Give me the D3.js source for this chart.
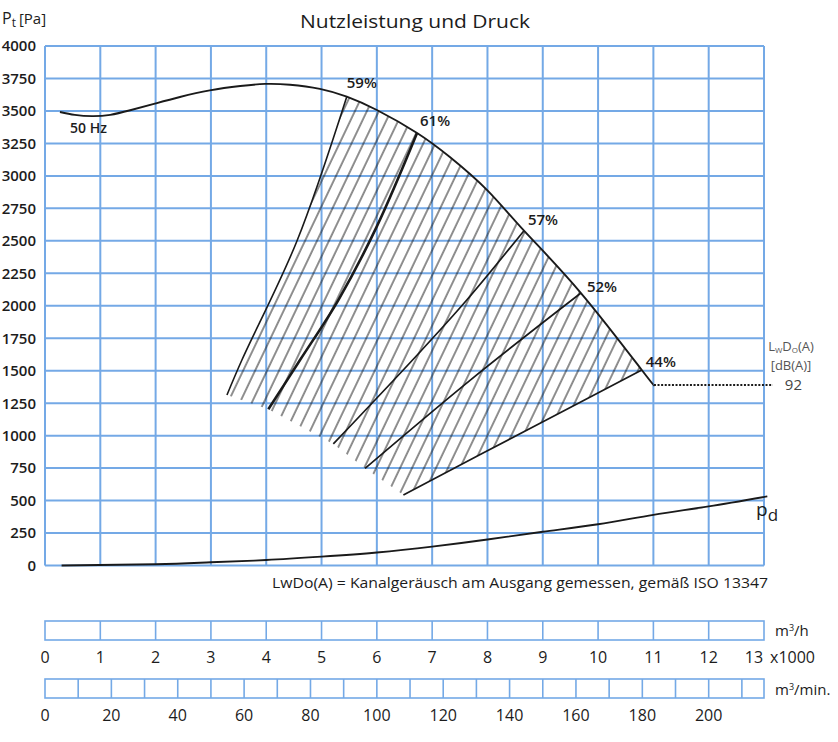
<!DOCTYPE html>
<html><head><meta charset="utf-8">
<script src="https://cdn.jsdelivr.net/npm/d3@7"></script>
<style>body{margin:0;background:#fff}</style>
</head><body>
<svg id="c" width="838" height="742" xmlns="http://www.w3.org/2000/svg"></svg>
<script>
// ---------- data ----------
const flowTicks = d3.range(0, 14);                 // x1000 m³/h
const pressureTicks = d3.range(0, 4001, 250);      // Pa
const minuteLines = d3.range(0, 211, 10);          // m³/min box dividers
const minuteLabels = d3.range(0, 201, 20);         // m³/min labels
const flowMaxMinute = 13000 / 60;

// 50 Hz fan curve [Q (x1000 m³/h), pt (Pa)]
const curve50Hz = [[0.27,3492],[0.54,3470],[0.85,3460],[1.18,3470],[1.54,3505],[1.97,3554],[2.44,3607],[2.98,3658],[3.53,3692],[3.98,3708],[4.43,3702],[4.97,3670],[5.456,3610],[6.0,3507],[6.727,3330],[7.32,3145],[7.99,2892],[8.66,2578],[9.69,2098],[10.79,1505],[11.01,1390]];
// dynamic pressure pd
const curvePd = [[0.3,0],[2,10],[3,25],[4,42],[5,68],[6,100],[7,145],[8,200],[9,260],[10,318],[11,390],[12,455],[13.06,532]];
// efficiency lines
const eff59 = [[5.456,3610],[4.55,2493],[3.56,1582],[3.29,1313]];
const eff61 = [[6.727,3330],[5.998,2609],[5.304,2044],[4.611,1582],[4.038,1203]];
const eff57 = [[8.66,2578],[7.626,2044],[6.78,1644],[5.213,936]];
const eff52 = [[9.69,2098],[7.69,1428],[5.787,748]];
const eff44 = [[10.79,1505],[8.83,1069],[6.48,543]];
const effNames = ["59%","61%","57%","52%","44%"];
const noiseValue = 92;           // LwDo(A) dB(A)
const noiseLineEndQ = 13.16;

// ---------- layout ----------
const svg = d3.select("#c");
const x = d3.scaleLinear().domain([0,13]).range([45,764]);
const y = d3.scaleLinear().domain([0,4000]).range([565.5,46]);
const xm = d3.scaleLinear().domain([0,flowMaxMinute]).range([45,764]);
const gridColor = "#74a9e6";
const textColor = "#1c1c1c";
const font = "'Open Sans', 'Noto Sans', sans-serif";
const condFont = "'Liberation Sans Narrow', 'Open Sans', sans-serif";

// grid
const g = svg.append("g");
g.selectAll("line.v").data(flowTicks).enter().append("line")
  .attr("x1", d=>x(d)).attr("x2", d=>x(d)).attr("y1", y(0)).attr("y2", y(4000))
  .attr("stroke", gridColor).attr("stroke-width", 2);
g.selectAll("line.h").data(pressureTicks).enter().append("line")
  .attr("x1", x(0)).attr("x2", x(13)).attr("y1", d=>y(d)).attr("y2", d=>y(d))
  .attr("stroke", gridColor).attr("stroke-width", 2);

// y labels
svg.append("g").selectAll("text").data(pressureTicks).enter().append("text")
  .attr("x", 36).attr("y", d=>y(d)).attr("dy","0.36em").attr("text-anchor","end")
  .attr("font-family", font).attr("font-size", 15).attr("font-weight", 600)
  .attr("fill", textColor).text(d=>d);

// axis title
const pt = svg.append("text").attr("x", 2).attr("y", 24).attr("font-family", font)
  .attr("fill", textColor).attr("font-size", 16);
pt.append("tspan").text("P");
pt.append("tspan").attr("font-size", 12).attr("dy", 3).text("t");
pt.append("tspan").attr("font-size", 15).attr("dy", -3).attr("dx", 3).text("[Pa]");

// title
svg.append("text").attr("x", 300).attr("y", 22).attr("dy","0.36em")
  .attr("font-family", font).attr("font-size", 18).attr("fill", textColor)
  .attr("textLength", 230).attr("lengthAdjust","spacingAndGlyphs")
  .text("Nutzleistung und Druck");

// hatch pattern
const defs = svg.append("defs");
const pat = defs.append("pattern").attr("id","hatch").attr("patternUnits","userSpaceOnUse")
  .attr("width", 10.8).attr("height", 20).attr("patternTransform","rotate(25.5)");
pat.append("line").attr("x1", 1).attr("x2", 1).attr("y1", 0).attr("y2", 20)
  .attr("stroke", "#111").attr("stroke-width", 0.95);

const lineCR = d3.line().x(d=>x(d[0])).y(d=>y(d[1])).curve(d3.curveCatmullRom.alpha(0.5));
const lineNat = d3.line().x(d=>x(d[0])).y(d=>y(d[1])).curve(d3.curveNatural);
const lineLin = d3.line().x(d=>x(d[0])).y(d=>y(d[1]));

const i0 = curve50Hz.findIndex(d=>d[0]===eff59[0][0]);
const i1 = curve50Hz.findIndex(d=>d[0]===eff44[0][0]);
const topPts = curve50Hz.slice(i0, i1+1);
const bottomPts = [eff44[eff44.length-1], eff52[eff52.length-1], eff57[eff57.length-1], eff61[eff61.length-1], eff59[eff59.length-1]];
const clipD = lineCR(eff59.slice().reverse()) +
  lineNat(topPts).replace(/^M/,"L") +
  lineCR(eff44).replace(/^M/,"L") +
  lineLin(bottomPts).replace(/^M/,"L") + "Z";
defs.append("clipPath").attr("id","hclip").append("path").attr("d", clipD);
svg.append("rect").attr("x", 0).attr("y", 0).attr("width", 838).attr("height", 742)
  .attr("fill","url(#hatch)").attr("clip-path","url(#hclip)");

// efficiency lines
const effs = [eff59, eff61, eff57, eff52, eff44];
const effWidths = [1.6, 2.6, 1.7, 1.7, 1.7];
svg.append("g").selectAll("path").data(effs).enter().append("path")
  .attr("d", d=>lineCR(d)).attr("fill","none").attr("stroke","#1a1a1a")
  .attr("stroke-width", (d,i)=>effWidths[i]);

// main curve and pd curve
svg.append("path").attr("d", lineNat(curve50Hz)).attr("fill","none")
  .attr("stroke","#1a1a1a").attr("stroke-width", 1.9);
svg.append("path").attr("d", lineNat(curvePd)).attr("fill","none")
  .attr("stroke","#1a1a1a").attr("stroke-width", 1.9);

// noise dotted line
const endPt = curve50Hz[curve50Hz.length-1];
svg.append("line").attr("x1", x(endPt[0])).attr("x2", x(noiseLineEndQ))
  .attr("y1", y(endPt[1])).attr("y2", y(endPt[1]))
  .attr("stroke","#1a1a1a").attr("stroke-width", 2).attr("stroke-dasharray","2,1.6");
svg.append("text").attr("x", x(noiseLineEndQ)+12).attr("y", y(endPt[1])).attr("dy","0.36em")
  .attr("font-family", font).attr("font-size", 15).attr("fill", "#444").text(noiseValue);

// LwDo(A) label
const lw = svg.append("text").attr("x", 791).attr("y", 346).attr("dy","0.36em")
  .attr("text-anchor","middle").attr("font-family", font).attr("font-size", 13).attr("fill","#555");
lw.append("tspan").text("L");
lw.append("tspan").attr("font-size", 8).attr("dy", 2).text("W");
lw.append("tspan").attr("dy", -2).text("D");
lw.append("tspan").attr("font-size", 8).attr("dy", 2).text("O");
lw.append("tspan").attr("dy", -2).text("(A)");
svg.append("text").attr("x", 791).attr("y", 365).attr("dy","0.36em")
  .attr("text-anchor","middle").attr("font-family", font).attr("font-size", 13).attr("fill","#555")
  .text("[dB(A)]");

// efficiency labels
const effLabelOffsets = [[0,-14],[3,-12],[4,-11],[6,-6],[4,-8]];
svg.append("g").selectAll("text").data(effs).enter().append("text")
  .attr("x", (d,i)=>x(d[0][0])+effLabelOffsets[i][0])
  .attr("y", (d,i)=>y(d[0][1])+effLabelOffsets[i][1]).attr("dy","0.36em")
  .attr("font-family", font).attr("font-size", 15).attr("font-weight", 600)
  .attr("fill", textColor).text((d,i)=>effNames[i]);

// 50 Hz label
svg.append("text").attr("x", 70).attr("y", 128).attr("dy","0.36em")
  .attr("font-family", font).attr("font-size", 14).attr("font-weight", 600)
  .attr("fill", textColor).text("50 Hz");

// pd label
const pd = svg.append("text").attr("x", 756).attr("y", 516)
  .attr("font-family", font).attr("font-size", 19).attr("fill", textColor);
pd.append("tspan").text("p");
pd.append("tspan").attr("font-size", 17).attr("dy", 5).text("d");

// footnote
svg.append("text").attr("x", 272).attr("y", 583).attr("dy","0.36em")
  .attr("font-family", condFont).attr("font-size", 15).attr("fill", textColor)
  .attr("textLength", 496).attr("lengthAdjust","spacingAndGlyphs")
  .text("LwDo(A) = Kanalgeräusch am Ausgang gemessen, gemäß ISO 13347");

// bottom scale 1: m³/h
const b1 = svg.append("g");
b1.append("rect").attr("x", x(0)).attr("y", 621).attr("width", x(13)-x(0)).attr("height", 19)
  .attr("fill","none").attr("stroke", gridColor).attr("stroke-width", 1.6);
b1.selectAll("line").data(flowTicks.slice(1,13)).enter().append("line")
  .attr("x1", d=>x(d)).attr("x2", d=>x(d)).attr("y1", 621).attr("y2", 640)
  .attr("stroke", gridColor).attr("stroke-width", 1.6);
b1.selectAll("text").data(flowTicks).enter().append("text")
  .attr("x", d=> d===13 ? x(d)-10 : x(d)).attr("y", 657).attr("dy","0.36em").attr("text-anchor","middle")
  .attr("font-family", condFont).attr("font-size", 16).attr("fill", textColor).text(d=>d);
b1.append("text").attr("x", 770).attr("y", 657).attr("dy","0.36em")
  .attr("font-family", condFont).attr("font-size", 16).attr("fill", textColor).text("x1000");
const u1 = b1.append("text").attr("x", 775).attr("y", 631).attr("dy","0.36em")
  .attr("font-family", condFont).attr("font-size", 15).attr("fill", textColor);
u1.append("tspan").text("m");
u1.append("tspan").attr("font-size", 9).attr("dy", -5).text("3");
u1.append("tspan").attr("dy", 5).text("/h");

// bottom scale 2: m³/min
const b2 = svg.append("g");
b2.append("rect").attr("x", xm(0)).attr("y", 679).attr("width", xm(flowMaxMinute)-xm(0)).attr("height", 19)
  .attr("fill","none").attr("stroke", gridColor).attr("stroke-width", 1.6);
b2.selectAll("line").data(minuteLines.slice(1)).enter().append("line")
  .attr("x1", d=>xm(d)).attr("x2", d=>xm(d)).attr("y1", 679).attr("y2", 698)
  .attr("stroke", gridColor).attr("stroke-width", 1.6);
b2.selectAll("text").data(minuteLabels).enter().append("text")
  .attr("x", d=>xm(d)).attr("y", 715).attr("dy","0.36em").attr("text-anchor","middle")
  .attr("font-family", condFont).attr("font-size", 16).attr("fill", textColor).text(d=>d);
const u2 = b2.append("text").attr("x", 775).attr("y", 690).attr("dy","0.36em")
  .attr("font-family", condFont).attr("font-size", 15).attr("fill", textColor);
u2.append("tspan").text("m");
u2.append("tspan").attr("font-size", 9).attr("dy", -5).text("3");
u2.append("tspan").attr("dy", 5).text("/min.");
</script>
</body></html>
